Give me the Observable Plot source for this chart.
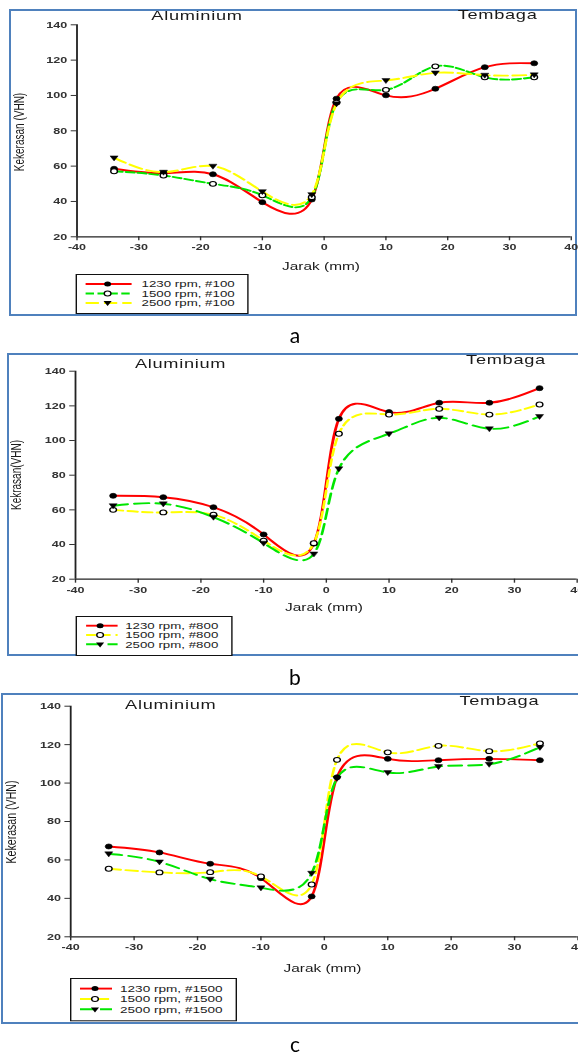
<!DOCTYPE html>
<html><head><meta charset="utf-8">
<script src="https://cdn.jsdelivr.net/npm/d3@7"></script>
<script src="https://cdn.jsdelivr.net/npm/@observablehq/plot@0.6"></script>
<style>
html,body{margin:0;padding:0;background:#fff;}
body{width:578px;height:1055px;position:relative;overflow:hidden;font-family:"Liberation Sans",Arial,sans-serif;}
#st{position:absolute;left:0;top:0;width:412.857px;height:1055px;transform:scaleX(1.4);transform-origin:0 0;}
.t{position:absolute;white-space:nowrap;color:#1a1a1a;line-height:1;}
.box{position:absolute;border:2px solid #4f81bd;box-sizing:border-box;}
.cap{position:absolute;transform:translateX(-50%);font-family:Lato,"Noto Sans",sans-serif;font-size:21px;color:#000;line-height:1;}
#st svg{position:absolute;}
</style></head><body>
<div class="box" style="left:9px;top:9px;width:568px;height:307px"></div>
<div class="box" style="left:7px;top:353px;width:590px;height:303px"></div>
<div class="box" style="left:1px;top:693px;width:595px;height:331px"></div>
<div id="st"></div>
<script>
// ---- data ----
const xPos = [-34, -26, -18, -10, -2, 2, 10, 18, 26, 34];
const xTicks = [-40, -30, -20, -10, 0, 10, 20, 30, 40];
const yTicks = [20, 40, 60, 80, 100, 120, 140];

const a1230 = [58.5, 56, 55.4, 39.6, 41.1, 98.2, 100.1, 103.8, 116, 118.2];
const a1500 = [57.1, 54.7, 50, 43.5, 42.4, 96, 103.2, 116.5, 110.3, 110.3];
const a2500 = [64.7, 56.6, 60, 45.6, 43.9, 95.3, 108.5, 112.8, 111.5, 111.7];

const b1230 = [68.1, 67.3, 61.5, 45.8, 40.5, 112.5, 116.4, 121.8, 121.8, 130.2];
const b1500 = [60, 58.5, 57.2, 42.3, 40.8, 103.9, 115, 118.3, 115, 120.8];
const b2500 = [62.4, 63.5, 55.8, 40.8, 34.6, 83.7, 103.9, 113.1, 106.8, 113.9];

const c1230 = [67, 63.9, 58, 50.5, 41, 103, 112.6, 111.9, 112.6, 111.9];
const c1500 = [55.4, 53.5, 53.6, 51.4, 47.2, 112.1, 116, 119.4, 116.6, 120.7];
const c2500 = [63.2, 59, 50, 45.5, 53.1, 102.5, 105.5, 108.6, 109.8, 118.6];

const labelsA = ["1230 rpm, #100", "1500 rpm, #100", "2500 rpm, #100"];
const labelsB = ["1230 rpm, #800", "1500 rpm, #800", "2500 rpm, #800"];
const labelsC = ["1230 rpm, #1500", "1500 rpm, #1500", "2500 rpm, #1500"];
const yLabels = ["Kekerasan (VHN)", "Kekrasan(VHN)", "Kekerasan (VHN)"];
const xLabel = "Jarak (mm)";
const leftTitle = "Aluminium", rightTitle = "Tembaga";
const captions = ["a", "b", "c"];

// ---- layout / style ----
const S = 1.4, W = 578 / S;
const RED = "#ff0000", GREEN = "#00e600", YEL = "#ffff00";
const panels = [
  {top: 0, h: 262, ft: 24.3, fb: 236.3, xl: 76.3, xr: 570.6,
   series: [{v: a1230, c: RED, d: null, m: "fc"}, {v: a1500, c: GREEN, d: "6,2.5", m: "oc"}, {v: a2500, c: YEL, d: "9.5,3.6", m: "tri"}],
   labels: labelsA, yl: yLabels[0], ylFs: 10,
   al: [197, 15], tb: [497.6, 14.3], ylp: [20, 132], jp: [321, 265.7],
   leg: {x0: 76, y0: 274, x1: 249, y1: 314, ys: [284, 293.5, 303], lx0: 86, lx1: 132, mx: 108, tx: 142, fs: 9.5},
   capBase: 343},
  {top: 340, h: 262, ft: 370.7, fb: 578.7, xl: 74.8, xr: 576.5,
   series: [{v: b1230, c: RED, d: null, m: "fc"}, {v: b1500, c: YEL, d: "7,3.5", m: "oc"}, {v: b2500, c: GREEN, d: "10.5,4.8", m: "tri"}],
   labels: labelsB, yl: yLabels[1], ylFs: 10,
   al: [180.6, 363], tb: [506, 359], ylp: [16.6, 475], jp: [324, 607],
   leg: {x0: 75, y0: 616, x1: 232, y1: 656, ys: [625.7, 635, 644.3], lx0: 85.5, lx1: 117, mx: 99.5, tx: 124.6, fs: 9.5},
   capBase: 685},
  {top: 685, h: 280, ft: 705.7, fb: 936.3, xl: 70, xr: 577.3,
   series: [{v: c1230, c: RED, d: null, m: "fc"}, {v: c1500, c: YEL, d: "8.6,3.6", m: "oc"}, {v: c2500, c: GREEN, d: "9.5,4.8", m: "tri"}],
   labels: labelsC, yl: yLabels[2], ylFs: 10.6,
   al: [170.7, 704.3], tb: [499.4, 700], ylp: [11.8, 821.7], jp: [322.5, 968.3],
   leg: {x0: 70, y0: 977.7, x1: 237, y1: 1021, ys: [988.3, 998.7, 1009], lx0: 80, lx1: 112, mx: 95, tx: 120, fs: 9.7},
   capBase: 1052}
];

const triDown = {draw(ctx, size) { const a = Math.sqrt(size / Math.PI); ctx.moveTo(-a * 1.2, -a * 0.8); ctx.lineTo(a * 1.2, -a * 0.8); ctx.lineTo(0, a * 1.3); ctx.closePath(); }};
function dotOpts(m) {
  if (m === "fc") return {r: 2.5, fill: "#000", stroke: "#000", strokeWidth: 0.6};
  if (m === "oc") return {r: 2.4, fill: "#fff", stroke: "#000", strokeWidth: 1};
  return {r: 2.4, symbol: triDown, fill: "#000", stroke: "#000", strokeWidth: 0.4};
}

const st = document.getElementById("st");
function addText(txt, cx, cy, css, rot) {
  const d = document.createElement("div");
  d.className = "t";
  d.textContent = txt;
  d.style.cssText += `left:${cx / S}px;top:${cy}px;` + css + `transform:translate(-50%,-50%)${rot ? " rotate(-90deg)" : ""};`;
  st.appendChild(d);
}

panels.forEach((p, pi) => {
  const marks = [
    Plot.ruleX([-40], {y1: 20, y2: 140, stroke: "#222", strokeWidth: 1.3}),
    Plot.ruleY([20], {x1: -40, x2: 40, stroke: "#222", strokeWidth: 1.3})
  ];
  p.series.forEach(s => {
    const rows = xPos.map((x, i) => ({x, y: s.v[i]}));
    marks.push(Plot.line(rows, {x: "x", y: "y", curve: "natural", stroke: s.c, strokeWidth: 1.9, strokeDasharray: s.d}));
  });
  p.series.forEach(s => {
    const rows = xPos.map((x, i) => ({x, y: s.v[i]}));
    marks.push(Plot.dot(rows, {x: "x", y: "y", ...dotOpts(s.m)}));
  });
  const chart = Plot.plot({
    width: W, height: p.h,
    marginTop: p.ft - p.top, marginBottom: p.top + p.h - p.fb,
    marginLeft: p.xl / S, marginRight: W - p.xr / S,
    x: {domain: [-40, 40], ticks: xTicks, tickSize: 4, tickPadding: 3, label: null, tickFormat: d => String(d)},
    y: {domain: [20, 140], ticks: yTicks, tickSize: 4, tickPadding: 3, label: null, tickFormat: d => String(d)},
    style: {background: "transparent", fontFamily: "'Liberation Sans', Arial, sans-serif", fontSize: "9px", fontWeight: "bold", color: "#333", overflow: "visible", maxWidth: "none"},
    marks
  });
  chart.style.left = "0px";
  chart.style.top = p.top + "px";
  st.appendChild(chart);

  addText(leftTitle, p.al[0], p.al[1], "font-size:13px;letter-spacing:0.5px;");
  addText(rightTitle, p.tb[0], p.tb[1], "font-size:13px;letter-spacing:0.5px;");
  addText(p.yl, p.ylp[0], p.ylp[1], `font-size:${p.ylFs}px;`, true);
  addText(xLabel, p.jp[0], p.jp[1], "font-size:11px;");

  // legend
  const L = p.leg;
  const lw = (L.x1 - L.x0) / S, lh = L.y1 - L.y0;
  const svg = d3.select(st).append("svg")
    .attr("width", lw).attr("height", lh)
    .style("left", (L.x0 / S) + "px").style("top", L.y0 + "px").style("overflow", "visible");
  svg.append("rect").attr("x", 0.5).attr("y", 0.5).attr("width", lw - 1).attr("height", lh - 1)
    .attr("fill", "#fff").attr("stroke", "#111").attr("stroke-width", 1);
  p.series.forEach((s, i) => {
    const y = L.ys[i] - L.y0;
    svg.append("line").attr("x1", (L.lx0 - L.x0) / S).attr("x2", (L.lx1 - L.x0) / S).attr("y1", y).attr("y2", y)
      .attr("stroke", s.c).attr("stroke-width", 1.9).attr("stroke-dasharray", s.d);
    const mx = (L.mx - L.x0) / S;
    if (s.m === "fc") svg.append("circle").attr("cx", mx).attr("cy", y).attr("r", 2.5).attr("fill", "#000");
    else if (s.m === "oc") svg.append("circle").attr("cx", mx).attr("cy", y).attr("r", 2.4).attr("fill", "#fff").attr("stroke", "#000");
    else svg.append("path").attr("d", `M${mx - 2.9},${y - 1.9}L${mx + 2.9},${y - 1.9}L${mx},${y + 3.1}Z`).attr("fill", "#000");
    svg.append("text").attr("x", (L.tx - L.x0) / S).attr("y", y).attr("dy", "0.35em")
      .attr("font-size", L.fs).attr("font-family", "'Liberation Sans', Arial, sans-serif").attr("fill", "#1a1a1a")
      .text(p.labels[i]);
  });

  const c = document.createElement("div");
  c.className = "cap";
  c.textContent = captions[pi];
  c.style.left = "295px";
  c.style.top = (p.capBase - 0.887 * 21) + "px";
  document.body.appendChild(c);
});
</script>
</body></html>
